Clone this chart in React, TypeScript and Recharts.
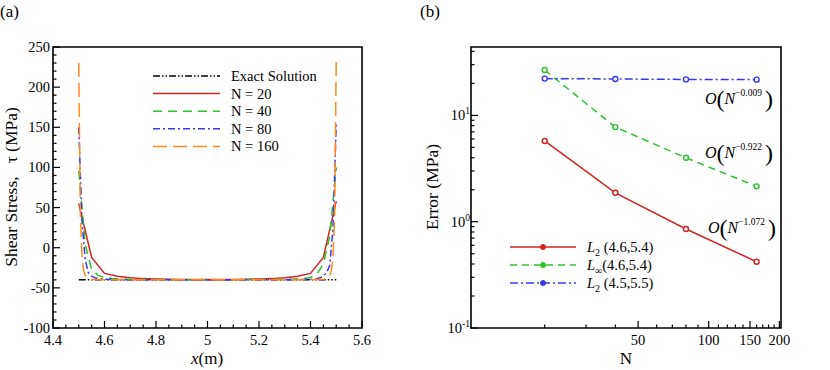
import React from "react";
import { LineChart, Line, XAxis, YAxis, ReferenceArea } from "recharts";

const FONT = "Liberation Serif, DejaVu Serif, serif";
const TXT = { fontFamily: FONT };

// (a) shear stress along the bar, one pair of arrays per mesh
const exactX = [4.5, 5.5];
const exactY = [-40, -40];

const n20X = [4.5, 4.55, 4.6, 4.65, 4.7, 4.75, 4.8, 4.85, 4.9, 4.95, 5.0, 5.05, 5.1, 5.15, 5.2, 5.25, 5.3, 5.35, 5.4, 5.45, 5.5];
const n20Y = [55, -12, -32, -35.5, -37.5, -38.5, -39, -39.3, -39.5, -39.6, -39.6, -39.6, -39.5, -39.3, -39, -38.5, -37.5, -35.5, -32, -12, 58];

const n40X = [4.5, 4.525, 4.55, 4.575, 4.6, 4.625, 4.65, 4.675, 4.7, 4.75, 4.8, 4.9, 5.0, 5.1, 5.2, 5.25, 5.3, 5.325, 5.35, 5.375, 5.4, 5.425, 5.45, 5.475, 5.5];
const n40Y = [96, 4, -27, -34.5, -37, -38.2, -38.8, -39.2, -39.4, -39.6, -39.7, -39.8, -39.8, -39.8, -39.7, -39.6, -39.4, -39.2, -38.8, -38.2, -37, -33, -20, 15, 100];

const n80X = [4.5, 4.5125, 4.525, 4.5375, 4.55, 4.5625, 4.575, 4.5875, 4.6, 4.65, 4.7, 4.8, 4.9, 5.0, 5.1, 5.2, 5.3, 5.35, 5.4, 5.4125, 5.425, 5.4375, 5.45, 5.4625, 5.475, 5.4875, 5.5];
const n80Y = [150, 34, -15, -31, -35.5, -37.5, -38.5, -39, -39.3, -39.6, -39.8, -39.9, -39.9, -39.9, -39.9, -39.9, -39.8, -39.6, -39.3, -39, -38.5, -37.5, -35.5, -31, -22, 25, 155];

const n160X = [4.5, 4.50625, 4.5125, 4.51875, 4.525, 4.53125, 4.5375, 4.54375, 4.55, 4.6, 4.7, 4.8, 4.9, 5.0, 5.1, 5.2, 5.3, 5.4, 5.45, 5.45625, 5.4625, 5.46875, 5.475, 5.48125, 5.4875, 5.49375, 5.5];
const n160Y = [230, 40, -10, -28, -34.5, -37, -38.3, -39, -39.4, -39.8, -39.9, -40, -40, -40, -40, -40, -39.9, -39.8, -39.4, -39, -38.3, -37, -34.5, -28, -10, 40, 236];

const namesA = ["Exact Solution", "N = 20", "N = 40", "N = 80", "N = 160"];

const xMajorA = [4.4, 4.6, 4.8, 5, 5.2, 5.4, 5.6];
const xMinorA = [4.45, 4.5, 4.55, 4.65, 4.7, 4.75, 4.85, 4.9, 4.95, 5.05, 5.1, 5.15, 5.25, 5.3, 5.35, 5.45, 5.5, 5.55];
const yMajorA = [-100, -50, 0, 50, 100, 150, 200, 250];
const yMinorA = [-90, -80, -70, -60, -40, -30, -20, -10, 10, 20, 30, 40, 60, 70, 80, 90, 110, 120, 130, 140, 160, 170, 180, 190, 210, 220, 230, 240];

// (b) error convergence
const meshN = [20, 40, 80, 160];
const l2Inner = [5.75, 1.87, 0.853, 0.42];
const lInfInner = [26.7, 7.76, 3.99, 2.15];
const l2Full = [22.2, 22.0, 21.8, 21.7];
const rates = ["−0.009", "−0.922", "−1.072"];

const xMajorB = [50, 100, 150, 200];
const xMinorB = [20, 30, 40, 60, 70, 80, 90, 110, 120, 130, 140, 160, 170, 180, 190];
const yMajorB = [0.1, 1, 10];
const yMinorB = [0.2, 0.3, 0.4, 0.5, 0.6, 0.7, 0.8, 0.9, 2, 3, 4, 5, 6, 7, 8, 9, 20, 30, 40];

const RED = "#d42222";
const GREEN = "#2cc42c";
const BLUE = "#3838f2";
const ORANGE = "#ff8a1e";

const colorsA = ["#000", RED, GREEN, BLUE, ORANGE];
const dashesA = ["7 2 1.5 2 1.5 2", undefined, "9 6", "7 3 2 3", "14 6"];

const toPts = (xs: number[], ys: number[]) => xs.map((x, i) => ({ x, y: ys[i] }));

const errData = meshN.map((n, i) => ({ n, l2i: l2Inner[i], linf: lInfInner[i], l2f: l2Full[i] }));

const sortNum = (a: number[]) => [...a].sort((p, q) => p - q);

const BottomTick = ({ x, y, payload, majors }: any) => {
  const major = majors.includes(payload.value);
  return (
    <g>
      <line x1={x} x2={x} y1={y} y2={y - (major ? 7 : 3.5)} stroke="#000" strokeWidth={1.2} />
      {major && (
        <text x={x} y={y + 17} textAnchor="middle" fontSize={14.5} style={TXT} fill="#000">
          {String(payload.value)}
        </text>
      )}
    </g>
  );
};

const LeftTick = ({ x, y, payload, majors, log }: any) => {
  const major = majors.includes(payload.value);
  return (
    <g>
      <line x1={x} x2={x + (major ? 7 : 3.5)} y1={y} y2={y} stroke="#000" strokeWidth={1.2} />
      {major && !log && (
        <text x={x - 3} y={y + 5} textAnchor="end" fontSize={14.5} style={TXT} fill="#000">
          {String(payload.value)}
        </text>
      )}
      {major && log && (
        <text x={x - 1} y={y + 5} textAnchor="end" fontSize={14.5} style={TXT} fill="#000">
          10
          <tspan fontSize={9.5} dy={-6}>
            {String(Math.round(Math.log10(payload.value)))}
          </tspan>
        </text>
      )}
    </g>
  );
};

const LegendA = () => (
  <g style={TXT} fontSize={14.5}>
    {namesA.map((name, i) => {
      const cy = 76 + i * 17.6;
      return (
        <g key={name}>
          <line x1={153} x2={220} y1={cy} y2={cy} stroke={colorsA[i]} strokeWidth={1.5} strokeDasharray={dashesA[i]} />
          <text x={231} y={cy + 5} fill="#000" style={TXT}>
            {name}
          </text>
        </g>
      );
    })}
  </g>
);

const legendB = [
  { sub: "2", rest: " (4.6,5.4)", color: RED, dash: undefined },
  { sub: "∞", rest: "(4.6,5.4)", color: GREEN, dash: "7 5" },
  { sub: "2", rest: " (4.5,5.5)", color: BLUE, dash: "8 3 2 3" },
];

const LegendB = () => (
  <g fontSize={14.5}>
    {legendB.map((row, i) => {
      const cy = 247 + i * 18;
      return (
        <g key={i}>
          <line x1={510} x2={576} y1={cy} y2={cy} stroke={row.color} strokeWidth={1.5} strokeDasharray={row.dash} />
          <circle cx={543} cy={cy} r={2.5} fill={row.color} stroke={row.color} strokeWidth={1} />
          <text x={587} y={cy + 5} fill="#000" style={TXT}>
            <tspan fontStyle="italic">L</tspan>
            <tspan fontSize={10} dy={4}>
              {row.sub}
            </tspan>
            <tspan dy={-4}>{row.rest}</tspan>
          </text>
        </g>
      );
    })}
  </g>
);

const rateLabelPos = [
  { x: 705, y: 104 },
  { x: 705, y: 158 },
  { x: 708, y: 233 },
];

const Rates = () => (
  <g fill="#000">
    {rates.map((r, i) => (
      <text key={r} x={rateLabelPos[i].x} y={rateLabelPos[i].y} fontSize={16} style={TXT}>
        <tspan fontStyle="italic">O</tspan>
        <tspan fontSize={24} dy={3}>
          (
        </tspan>
        <tspan fontStyle="italic" dy={-3}>
          N
        </tspan>
        <tspan fontSize={9.5} dy={-8}>
          {r}
        </tspan>
        <tspan fontSize={24} dy={11} dx={3}>
          )
        </tspan>
      </text>
    ))}
  </g>
);

export default function App() {
  const xTicksA = sortNum([...xMajorA, ...xMinorA]);
  const yTicksA = sortNum([...yMajorA, ...yMinorA]);
  const xTicksB = sortNum([...xMajorB, ...xMinorB]);
  const yTicksB = sortNum([...yMajorB, ...yMinorB]);

  const seriesA = [
    [exactX, exactY],
    [n20X, n20Y],
    [n40X, n40Y],
    [n80X, n80Y],
    [n160X, n160Y],
  ];

  return (
    <div style={{ position: "absolute", left: 0, top: 0, width: 830, height: 370, background: "#fff", fontFamily: FONT }}>
      <div style={{ position: "absolute", left: 0, top: 0 }}>
        <LineChart width={420} height={370} margin={{ top: 47, right: 58, bottom: 0, left: 0 }}>
          <XAxis
            type="number"
            dataKey="x"
            domain={[4.4, 5.6]}
            ticks={xTicksA}
            interval={0}
            height={42}
            tickSize={0}
            tickMargin={0}
            axisLine={false}
            tickLine={false}
            allowDataOverflow
            tick={(p: any) => <BottomTick {...p} majors={xMajorA} />}
          />
          <YAxis
            type="number"
            domain={[-100, 250]}
            ticks={yTicksA}
            interval={0}
            width={53}
            tickSize={0}
            tickMargin={0}
            axisLine={false}
            tickLine={false}
            allowDataOverflow
            tick={(p: any) => <LeftTick {...p} majors={yMajorA} />}
          />
          {seriesA.map(([xs, ys], i) => (
            <Line
              key={namesA[i]}
              data={toPts(xs, ys)}
              dataKey="y"
              type="linear"
              stroke={colorsA[i]}
              strokeWidth={1.5}
              strokeDasharray={dashesA[i]}
              dot={false}
              isAnimationActive={false}
            />
          ))}
          <ReferenceArea x1={4.4} x2={5.6} y1={-100} y2={250} fill="none" stroke="#000" strokeWidth={1.6} ifOverflow="visible" />
        </LineChart>
      </div>

      <div style={{ position: "absolute", left: 420, top: 0 }}>
        <LineChart width={410} height={370} data={errData} margin={{ top: 47, right: 49, bottom: 0, left: 0 }}>
          <XAxis
            type="number"
            dataKey="n"
            scale="log"
            domain={[9.7, 203.3]}
            ticks={xTicksB}
            interval={0}
            height={42}
            tickSize={0}
            tickMargin={0}
            axisLine={false}
            tickLine={false}
            allowDataOverflow
            tick={(p: any) => <BottomTick {...p} majors={xMajorB} />}
          />
          <YAxis
            type="number"
            scale="log"
            domain={[0.1, 44]}
            ticks={yTicksB}
            interval={0}
            width={51}
            tickSize={0}
            tickMargin={0}
            axisLine={false}
            tickLine={false}
            allowDataOverflow
            tick={(p: any) => <LeftTick {...p} majors={yMajorB} log />}
          />
          <Line dataKey="l2i" stroke={RED} strokeWidth={1.5} dot={{ r: 2.5, fill: "#fff", stroke: RED, strokeWidth: 1.4 }} isAnimationActive={false} />
          <Line dataKey="linf" stroke={GREEN} strokeWidth={1.5} strokeDasharray="7 5" dot={{ r: 2.5, fill: "#fff", stroke: GREEN, strokeWidth: 1.4, strokeDasharray: "" }} isAnimationActive={false} />
          <Line dataKey="l2f" stroke={BLUE} strokeWidth={1.5} strokeDasharray="8 3 2 3" dot={{ r: 2.5, fill: "#fff", stroke: BLUE, strokeWidth: 1.4, strokeDasharray: "" }} isAnimationActive={false} />
          <ReferenceArea x1={9.7} x2={203.3} y1={0.1} y2={44} fill="none" stroke="#000" strokeWidth={1.6} ifOverflow="visible" />
        </LineChart>
      </div>

      <svg width={830} height={370} style={{ position: "absolute", left: 0, top: 0, pointerEvents: "none" }}>
        <g fill="#000">
          <text x={0} y={17} fontSize={17} style={TXT}>(a)</text>
          <text x={420} y={17} fontSize={17} style={TXT}>(b)</text>
          <text x={207} y={364} fontSize={17} textAnchor="middle" style={TXT}>
            <tspan fontStyle="italic">x</tspan>(m)
          </text>
          <text x={626} y={364} fontSize={17} textAnchor="middle" style={TXT}>N</text>
          <text transform="translate(17,187) rotate(-90)" fontSize={17.5} textAnchor="middle" xmlSpace="preserve" style={TXT}>
            Shear Stress,   τ (MPa)
          </text>
          <text transform="translate(438,187) rotate(-90)" fontSize={17.5} textAnchor="middle" style={TXT}>
            Error (MPa)
          </text>
        </g>
        <LegendA />
        <LegendB />
        <Rates />
      </svg>
    </div>
  );
}
